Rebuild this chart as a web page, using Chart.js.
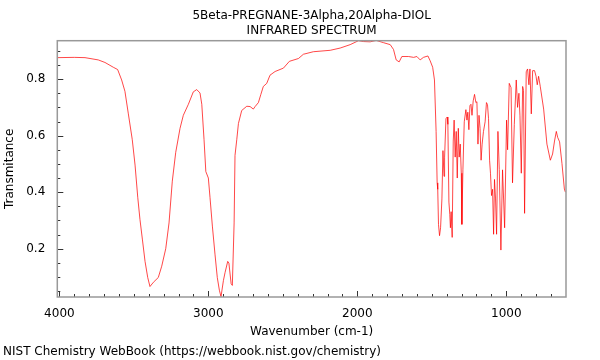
<!DOCTYPE html>
<html><head><meta charset="utf-8">
<script src="https://cdn.jsdelivr.net/npm/chart.js@4"></script>
<style>html,body{margin:0;padding:0;background:#fff}#wrap{width:600px;height:360px}</style>
</head><body><div id="wrap"><canvas id="c" width="600" height="360"></canvas></div>
<script>
const titleLines = ["5Beta-PREGNANE-3Alpha,20Alpha-DIOL", "INFRARED SPECTRUM"];
const xAxisLabel = "Wavenumber (cm-1)";
const yAxisLabel = "Transmitance";
const footerText = "NIST Chemistry WebBook (https://webbook.nist.gov/chemistry)";
const xTickLabels = [4000, 3000, 2000, 1000];
const yTickLabels = [0.2, 0.4, 0.6, 0.8];

const wavenumbers = [
4014,3900,3828,3739,3694,3638,3609,3582,3560,3537,3511,3492,3474,3459,3443,3425,3407,3392,3369,3336,
3313,3286,3264,3242,3219,3190,3168,3134,3101,3078,3056,3044,3029,3017,3000,2989,2973,2955,2940,2926,
2915,2899,2888,2870,2862,2847,2839,2827,2821,2809,2798,2776,2742,2720,2698,2686,2664,2648,2631,2608,
2586,2552,2496,2456,2395,2362,2295,2182,2115,2048,1992,1959,1914,1873,1824,1779,1757,1739,1719,1701,
1656,1622,1600,1578,1556,1526,1511,1494,1482,1471,1464,1460,1455,1448,1441,1432,1425,1418,1414,1405,
1396,1392,1385,1379,1375,1370,1363,1356,1350,1343,1336,1329,1322,1316,1309,1302,1298,1291,1282,1271,
1264,1258,1251,1244,1237,1230,1222,1213,1204,1197,1190,1183,1176,1169,1162,1153,1142,1133,1126,1119,
1112,1106,1099,1092,1085,1079,1072,1065,1056,1047,1036,1025,1011,998,991,980,968,958,946,933,
924,915,908,899,890,884,877,866,857,848,841,832,823,810,800,792,783,772,749,727,
704,689,676,664,655,642,626,610,603
];
const transmittance = [
0.876,0.877,0.876,0.868,0.859,0.842,0.834,0.797,0.757,0.677,0.587,0.496,0.382,0.303,0.234,0.155,0.098,0.066,0.081,0.098,
0.138,0.200,0.291,0.439,0.541,0.626,0.672,0.711,0.755,0.763,0.751,0.711,0.587,0.473,0.450,0.382,0.280,0.178,0.098,0.053,
0.030,0.087,0.115,0.155,0.149,0.076,0.070,0.291,0.530,0.587,0.643,0.689,0.704,0.703,0.694,0.703,0.717,0.745,0.774,0.785,
0.814,0.827,0.839,0.863,0.873,0.888,0.897,0.902,0.910,0.922,0.936,0.933,0.932,0.937,0.929,0.922,0.905,0.868,0.861,0.880,
0.880,0.877,0.880,0.868,0.877,0.882,0.865,0.842,0.797,0.615,0.433,0.410,0.286,0.246,0.274,0.376,0.547,0.456,0.524,0.660,
0.666,0.640,0.365,0.320,0.274,0.331,0.240,0.581,0.655,0.524,0.615,0.450,0.626,0.524,0.570,0.467,0.286,0.479,0.649,0.692,
0.655,0.683,0.621,0.706,0.711,0.672,0.723,0.746,0.717,0.720,0.570,0.672,0.626,0.513,0.570,0.615,0.649,0.717,0.710,0.660,
0.513,0.467,0.388,0.410,0.251,0.445,0.376,0.251,0.615,0.480,0.195,0.479,0.274,0.655,0.550,0.785,0.770,0.433,0.640,0.797,
0.700,0.750,0.670,0.467,0.774,0.760,0.325,0.826,0.836,0.780,0.836,0.677,0.830,0.830,0.810,0.780,0.810,0.775,0.694,0.570,
0.513,0.535,0.581,0.615,0.594,0.578,0.501,0.411,0.400
];

const FONT = {family: "'DejaVu Sans', sans-serif", size: 12};

const framePlugin = {
  id: 'frameTicks',
  afterDraw(chart) {
    const {ctx, chartArea: a, scales: {x, y}} = chart;
    ctx.save();
    ctx.strokeStyle = '#333';
    ctx.lineWidth = 1;
    ctx.beginPath();
    for (let v = 700; v <= 4000; v += 100) {
      const px = Math.round(x.getPixelForValue(v)) + 0.5;
      const len = v % 1000 === 0 ? 6 : 3;
      ctx.moveTo(px, a.bottom); ctx.lineTo(px, a.bottom - len);
    }
    for (let i = 1; i <= 18; i++) {
      const py = Math.round(y.getPixelForValue(i * 0.05)) + 0.5;
      const len = i % 4 === 0 ? 6 : 3;
      ctx.moveTo(a.left, py); ctx.lineTo(a.left + len, py);
    }
    ctx.stroke();
    ctx.strokeStyle = '#999';
    ctx.lineWidth = 1.5;
    ctx.strokeRect(a.left, a.top, a.right - a.left, a.bottom - a.top);
    ctx.restore();
  }
};

new Chart(document.getElementById('c'), {
  type: 'scatter',
  data: {
    datasets: [{
      data: wavenumbers.map((w, i) => ({x: w, y: transmittance[i]})),
      showLine: true,
      borderColor: 'rgba(255,0,0,0.72)',
      borderWidth: 1,
      pointRadius: 0,
      tension: 0
    }]
  },
  options: {
    responsive: false,
    animation: false,
    layout: {padding: {left: 3, right: 34, top: 0, bottom: 1}},
    plugins: {
      legend: {display: false},
      tooltip: {enabled: false},
      title: {
        display: true, text: titleLines, fullSize: false, color: '#000',
        font: {...FONT, weight: 'normal', lineHeight: 1.25},
        padding: {top: 8, bottom: 2.7}
      },
      subtitle: {
        display: true, text: footerText, position: 'bottom', align: 'start', color: '#000',
        font: {...FONT, weight: 'normal'},
        padding: {top: 0, bottom: 0}
      }
    },
    scales: {
      x: {
        type: 'linear', reverse: true, min: 599, max: 4014,
        grid: {display: false}, border: {display: false},
        afterBuildTicks: s => { s.ticks = xTickLabels.map(v => ({value: v})); },
        ticks: {color: '#000', font: FONT, padding: 2, maxRotation: 0, callback: v => String(v)},
        title: {display: true, text: xAxisLabel, color: '#000', font: FONT, padding: {top: 1.4, bottom: 5.4}}
      },
      y: {
        type: 'linear', min: 0.029, max: 0.936,
        grid: {display: false}, border: {display: false},
        afterBuildTicks: s => { s.ticks = yTickLabels.map(v => ({value: v})); },
        afterFit: s => { s.width = 54.3; },
        ticks: {color: '#000', font: FONT, padding: 4, callback: v => v.toFixed(1)},
        title: {display: true, text: yAxisLabel, color: '#000', font: FONT, padding: {top: 0, bottom: 0}}
      }
    }
  },
  plugins: [framePlugin]
});
</script>
</body></html>
